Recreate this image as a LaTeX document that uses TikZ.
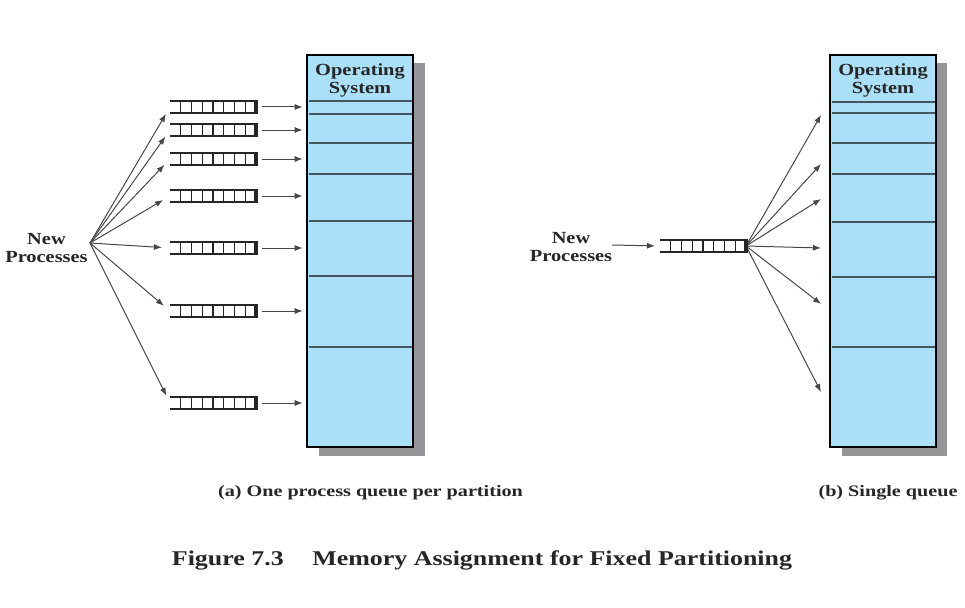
\documentclass[tikz,border=0pt]{standalone}
\usepackage{fontspec}
\setmainfont{Liberation Serif}
\usetikzlibrary{arrows.meta,calc}
\definecolor{memblue}{RGB}{172,224,248}
\definecolor{shadowgray}{RGB}{150,150,152}
\definecolor{partcol}{RGB}{70,85,95}
\newcommand{\wideA}[1]{\scalebox{1.2}[1]{#1}}
\tikzset{
  membox/.style={draw=black,line width=2.6pt,fill=memblue,minimum width=106pt,minimum height=392pt,inner sep=0pt},
  queue/.style={minimum width=86pt,minimum height=12pt,inner sep=0pt,outer sep=0pt},
  qline/.style={line width=2.4pt,black!85},
  qdiv/.style={line width=1.2pt,black!85},
  qend/.style={line width=3.2pt,black!85},
  partline/.style={line width=1.1pt,partcol},
  arr/.style={-{Latex[length=8pt,width=6pt]},line width=1pt,black!72},
  lbl/.style={font=\fontsize{17}{17.5}\selectfont\bfseries,align=center,inner sep=0pt,text=black!85},
  subcap/.style={font=\fontsize{16}{17}\selectfont\bfseries,inner sep=0pt,text=black!85},
  figcap/.style={font=\fontsize{21}{22}\selectfont\bfseries,inner sep=0pt,text=black!85}
}
\begin{document}
\begin{tikzpicture}[x=1pt,y=-1pt]
\useasboundingbox (0,0) rectangle (965,607);
% ---------- (a) ----------
\fill[shadowgray] (319,63) rectangle (425,456);
\node[membox] (mema) at (360,251) {};
\foreach \yy in {101,114,143,174,221,276,347}
  \draw[partline] (308.5,\yy) -- (411.5,\yy);
\node[lbl] (osa) at (360,80.5) {\wideA{Operating}\\\wideA{System}};
\foreach \n/\yy in {1/107,2/130,3/159,4/196,5/248,6/311,7/403}
  \node[queue] (qa\n) at (213,\yy) {};
\node[lbl] (npa) at (46.5,248) {\wideA{New}\\\wideA{Processes}};
\coordinate (srcA) at (90,243);
\foreach \n in {1,...,7}{
  \draw[arr,shorten >=8pt] (srcA) -- (qa\n.west);
  \draw[arr,shorten <=6pt,shorten >=3pt] (qa\n.east) -- (qa\n.east -| mema.west);
}
% ---------- (b) ----------
\fill[shadowgray] (842,63) rectangle (947,456);
\node[membox] (memb) at (883,251) {};
\foreach \yy in {102,113,143,174,222,277,347}
  \draw[partline] (831.5,\yy) -- (934.5,\yy);
\node[lbl] (osb) at (883,80.5) {\wideA{Operating}\\\wideA{System}};
\node[queue] (qb) at (703,246) {};
\node[lbl] (npb) at (571,247) {\wideA{New}\\\wideA{Processes}};
\coordinate (srcB) at (612,245);
\draw[arr,shorten >=5pt] (srcB) -- (qb.west);
\foreach \n/\yy in {1/115,2/164,3/199,4/248,5/304,6/392}{
  \coordinate (tb\n) at (821,\yy);
  \draw[arr] (qb.east) -- (tb\n);
}
% ---------- queue shapes ----------
\foreach \q in {qa1,qa2,qa3,qa4,qa5,qa6,qa7,qb}{
  \draw[qline] (\q.north west) -- (\q.north east);
  \draw[qline] (\q.south west) -- (\q.south east);
  \foreach \k in {1,...,7}
    \draw[qdiv] ($(\q.north west)!\k/8!(\q.north east)$) -- ($(\q.south west)!\k/8!(\q.south east)$);
  \draw[qend] ([yshift=1.2pt]\q.north east) -- ([yshift=-1.2pt]\q.south east);
}
% ---------- captions ----------
\node[subcap] (capa) at (370.5,493) {\scalebox{1.26}[1]{(a) One process queue per partition}};
\node[subcap] (capb) at (888,493) {\scalebox{1.26}[1]{(b) Single queue}};
\node[figcap] (fig) at (482,560) {\scalebox{1.235}[1]{Figure 7.3\hspace{1.1em}Memory Assignment for Fixed Partitioning}};
\end{tikzpicture}
\end{document}
